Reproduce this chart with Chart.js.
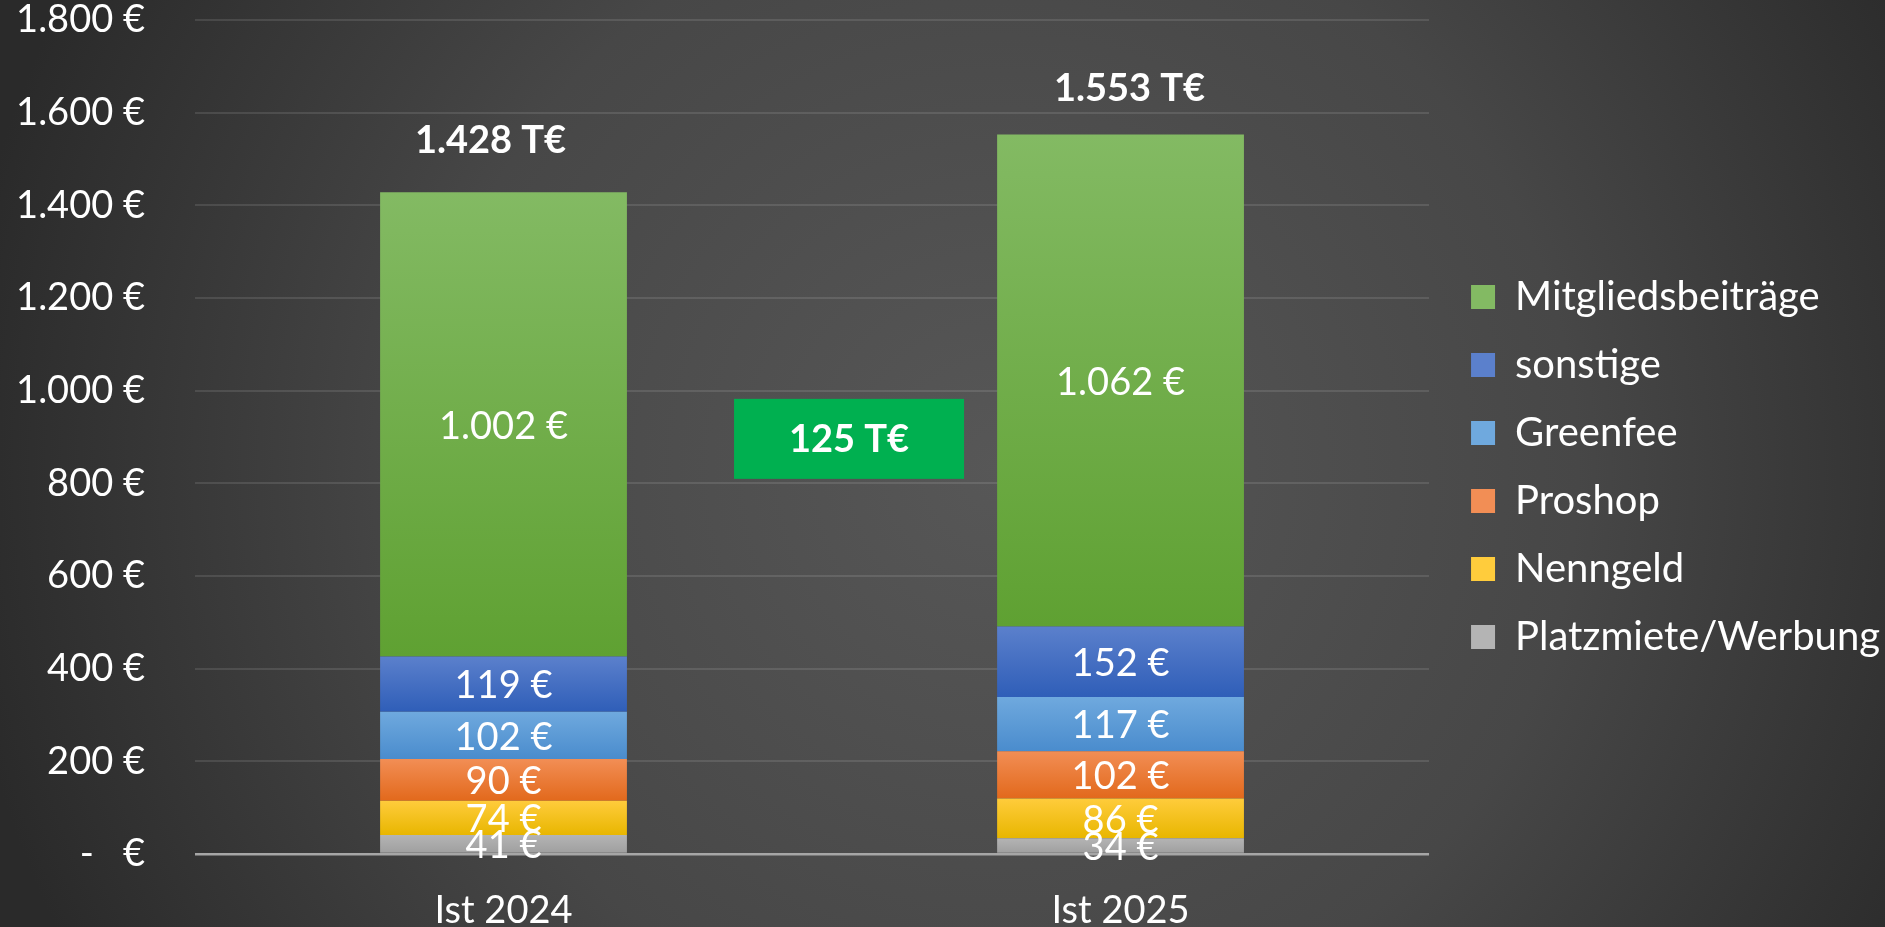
<!DOCTYPE html>
<html>
<head>
<meta charset="utf-8">
<script src="https://cdn.jsdelivr.net/npm/chart.js@4"></script>
<style>
  html, body { margin: 0; padding: 0; background: #3a3a3a; }
  #wrap { width: 1885px; height: 927px; position: relative; }
</style>
</head>
<body>
<div id="wrap"><canvas id="umsatzChart"></canvas></div>
<script>
const categories = ["Ist 2024", "Ist 2025"];
const platzmiete = [41, 34];
const nenngeld = [74, 86];
const proshop = [90, 102];
const greenfee = [102, 117];
const sonstige = [119, 152];
const mitglieder = [1002, 1062];
const yTicks = [0, 200, 400, 600, 800, 1000, 1200, 1400, 1600, 1800];

const FONT = "Lato, 'Open Sans', sans-serif";

function fmt(n) {
  return String(n).replace(/\B(?=(\d{3})+(?!\d))/g, ".");
}

const series = [
  { label: "Platzmiete/Werbung", data: platzmiete, top: "#b4b4b4", bottom: "#9e9e9e" },
  { label: "Nenngeld", data: nenngeld, top: "#ffcc3c", bottom: "#e8b600" },
  { label: "Proshop", data: proshop, top: "#f28e55", bottom: "#e2691c" },
  { label: "Greenfee", data: greenfee, top: "#6fa9de", bottom: "#4a8ccd" },
  { label: "sonstige", data: sonstige, top: "#5b80cc", bottom: "#2f5eb8" },
  { label: "Mitgliedsbeiträge", data: mitglieder, top: "#83ba63", bottom: "#5fa132" }
];

const totals = categories.map((c, i) => series.reduce((s, d) => s + d.data[i], 0));

// gradient for one stacked segment, built from the y scale
function segmentFill(si) {
  return function (ctx) {
    const chart = ctx.chart;
    const s = series[si];
    if (ctx.type !== "data" || !chart.scales || !chart.scales.y) return s.top;
    const i = ctx.dataIndex;
    let base = 0;
    for (let k = 0; k < si; k++) base += series[k].data[i];
    const y = chart.scales.y;
    const yTop = y.getPixelForValue(base + s.data[i]);
    const yBot = y.getPixelForValue(base);
    if (!isFinite(yTop) || !isFinite(yBot) || yTop === yBot) return s.top;
    const g = chart.ctx.createLinearGradient(0, yTop, 0, yBot);
    g.addColorStop(0, s.top);
    g.addColorStop(1, s.bottom);
    return g;
  };
}

const background = {
  id: "background",
  beforeDraw(chart) {
    const c = chart.ctx;
    const w = chart.width, h = chart.height;
    const g = c.createRadialGradient(1000, 470, 0, 1000, 470, 1050);
    g.addColorStop(0, "#575757");
    g.addColorStop(0.55, "#474747");
    g.addColorStop(1, "#2a2a2a");
    c.save();
    c.fillStyle = g;
    c.fillRect(0, 0, w, h);
    c.restore();
  }
};

// the total labels were nudged by hand in the original
const totalShift = [{ dx: -13, dy: 52 }, { dx: 9, dy: 46 }];

const labels = {
  id: "labels",
  afterDatasetsDraw(chart) {
    const c = chart.ctx;
    c.save();
    c.fillStyle = "#ffffff";
    c.textAlign = "center";
    c.textBaseline = "middle";
    c.font = "38px " + FONT;
    chart.data.datasets.forEach((ds, di) => {
      chart.getDatasetMeta(di).data.forEach((bar, i) => {
        const mid = (bar.y + bar.base) / 2;
        c.fillText(fmt(ds.data[i]) + " €", bar.x, mid + 2);
      });
    });
    // totals above the bars
    const top = chart.getDatasetMeta(chart.data.datasets.length - 1).data;
    c.font = "bold 38px " + FONT;
    top.forEach((bar, i) => {
      c.fillText(fmt(totals[i]) + " T€", bar.x + totalShift[i].dx, bar.y - totalShift[i].dy);
    });
    // difference box
    const x = chart.scales.x.getPixelForValue(0.56);
    const y = chart.scales.y.getPixelForValue(896);
    c.fillStyle = "#00b050";
    c.fillRect(x - 115, y - 40, 230, 80);
    c.fillStyle = "#ffffff";
    c.font = "bold 38px " + FONT;
    c.fillText(fmt(totals[1] - totals[0]) + " T€", x, y + 1);
    c.restore();
  }
};

new Chart(document.getElementById("umsatzChart"), {
  type: "bar",
  data: {
    labels: categories,
    datasets: series.map((s, si) => ({
      label: s.label,
      data: s.data,
      backgroundColor: segmentFill(si),
      borderWidth: 0,
      categoryPercentage: 1,
      barPercentage: 0.4
    }))
  },
  options: {
    responsive: true,
    maintainAspectRatio: false,
    animation: false,
    layout: { padding: { left: 0, right: -5, top: 7, bottom: 0 } },
    plugins: {
      tooltip: { enabled: false },
      legend: {
        position: "right",
        reverse: true,
        maxWidth: 470,
        labels: {
          color: "#ffffff",
          font: { family: FONT, size: 40 },
          boxWidth: 24,
          boxHeight: 24,
          padding: 28,
          generateLabels(chart) {
            return series.map((s, i) => ({
              text: s.label,
              fillStyle: s.top,
              strokeStyle: s.top,
              lineWidth: 0,
              fontColor: "#ffffff",
              datasetIndex: i,
              hidden: false
            }));
          }
        }
      }
    },
    scales: {
      x: {
        stacked: true,
        grid: { display: false },
        border: { display: false },
        ticks: { color: "#ffffff", font: { family: FONT, size: 38 }, padding: 26 },
        afterFit(axis) {
          axis.height = 73;
        }
      },
      y: {
        stacked: true,
        min: 0,
        max: 1800,
        afterBuildTicks(axis) {
          axis.ticks = yTicks.map(v => ({ value: v }));
        },
        afterFit(axis) {
          axis.width = 195;
          axis.paddingTop = 20;
          axis.paddingBottom = 22;
        },
        grid: {
          color: ctx => ctx.tick && ctx.tick.value === 0 ? "#a6a6a6" : "rgba(255,255,255,0.11)",
          lineWidth: ctx => ctx.tick && ctx.tick.value === 0 ? 2.5 : 2,
          drawTicks: false
        },
        border: { display: false },
        ticks: {
          color: "#ffffff",
          font: { family: FONT, size: 38 },
          padding: 50,
          callback: v => v === 0 ? "-   €" : fmt(v) + " €"
        }
      },
      gap: {
        type: "linear",
        position: "right",
        display: true,
        grid: { display: false },
        border: { display: false },
        ticks: { display: false },
        afterFit(axis) {
          axis.width = 14;
        }
      }
    }
  },
  plugins: [background, labels]
});
</script>
</body>
</html>
